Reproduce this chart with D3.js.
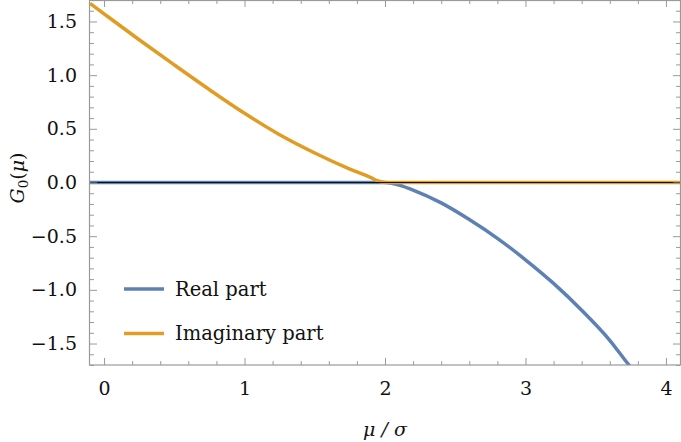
<!DOCTYPE html>
<html>
<head>
<meta charset="utf-8">
<script src="https://cdn.jsdelivr.net/npm/d3@7"></script>
<style>
  body { margin: 0; background: #fff; }
  svg { display: block; }
  text { font-family: "DejaVu Serif", serif; fill: #111; }
</style>
</head>
<body>
<svg width="681" height="442"></svg>
<script>
// values
var muRe = [-0.1, 0.5, 1.0, 1.5, 1.9, 2.0, 2.05, 2.1, 2.2, 2.4, 2.6, 2.8, 3.0, 3.2, 3.4, 3.6, 3.73, 3.8];
var re   = [0, 0, 0, 0, 0, 0, -0.008, -0.024, -0.07, -0.19, -0.345, -0.52, -0.72, -0.94, -1.19, -1.47, -1.69, -1.80];
var muIm = [-0.1, 0, 0.25, 0.5, 0.75, 1.0, 1.25, 1.5, 1.75, 1.9, 1.95, 2.0, 2.5, 3.0, 3.5, 4.1];
var im   = [1.668, 1.571, 1.33, 1.095, 0.865, 0.645, 0.445, 0.275, 0.125, 0.045, 0.014, 0, 0, 0, 0, 0];
var xTicks = [0, 1, 2, 3, 4];
var yTicks = [-1.5, -1.0, -0.5, 0.0, 0.5, 1.0, 1.5];
var seriesNames = ["Real part", "Imaginary part"];

var svg = d3.select("svg"),
    plotLeft = 90, plotRight = 680, plotTop = 0, plotBottom = 365;

var xScale = d3.scaleLinear().domain([-0.1, 4.1]).range([plotLeft, plotRight]),
    yScale = d3.scaleLinear().domain([-1.7, 1.7]).range([plotBottom, plotTop]);

var colors = ["#5e81b5", "#e19c24"];
var frameColor = "#9a9a9a";

svg.append("clipPath").attr("id", "clip")
    .append("rect")
    .attr("x", plotLeft).attr("y", plotTop)
    .attr("width", plotRight - plotLeft).attr("height", plotBottom - plotTop);

var series = [
    muRe.map(function (m, i) { return {mu: m, v: re[i]}; }),
    muIm.map(function (m, i) { return {mu: m, v: im[i]}; })
];

var line = d3.line()
    .x(function (d) { return xScale(d.mu); })
    .y(function (d) { return yScale(d.v); })
    .curve(d3.curveMonotoneX);

var plot = svg.append("g").attr("clip-path", "url(#clip)");

plot.selectAll(".line")
    .data(series)
    .enter().append("path")
    .attr("class", "line")
    .attr("d", line)
    .attr("fill", "none")
    .attr("stroke", function (d, i) { return colors[i]; })
    .attr("stroke-width", 3.5)
    .attr("stroke-linejoin", "round");

// zero axis line on top
plot.append("line")
    .attr("x1", plotLeft).attr("x2", plotRight)
    .attr("y1", yScale(0)).attr("y2", yScale(0))
    .attr("stroke", "#111")
    .attr("stroke-width", 1);

// frame with mirrored ticks
var xMinor = d3.range(0, 4.01, 0.2).filter(function (v) { return xTicks.indexOf(Math.round(v * 10) / 10) < 0; });
var yMinor = d3.range(-1.7, 1.71, 0.1).map(function (v) { return Math.round(v * 10) / 10; })
    .filter(function (v) { return Math.abs(v * 2 - Math.round(v * 2)) > 1e-6; });

var xAxisB = d3.axisBottom(xScale).tickValues(xTicks).tickSize(7).tickPadding(10).tickFormat(d3.format("d"));
var xAxisBm = d3.axisBottom(xScale).tickValues(xMinor).tickSize(4).tickFormat("");
var xAxisT = d3.axisTop(xScale).tickValues(xTicks).tickSize(7).tickFormat("");
var xAxisTm = d3.axisTop(xScale).tickValues(xMinor).tickSize(4).tickFormat("");
var yAxisL = d3.axisLeft(yScale).tickValues(yTicks).tickSize(7).tickPadding(6).tickFormat(function (d) {
    return (d < 0 ? "\u2212" : "") + Math.abs(d).toFixed(1);
});
var yAxisLm = d3.axisLeft(yScale).tickValues(yMinor).tickSize(4).tickFormat("");
var yAxisR = d3.axisRight(yScale).tickValues(yTicks).tickSize(7).tickFormat("");
var yAxisRm = d3.axisRight(yScale).tickValues(yMinor).tickSize(4).tickFormat("");

function inward(g) {
    g.select(".domain").remove();
    g.selectAll(".tick line").attr("stroke", frameColor);
    g.selectAll(".tick text").style("font-size", "19px").attr("fill", "#111");
}

svg.append("g").attr("transform", "translate(0," + plotBottom + ")").call(xAxisB).call(inward)
    .selectAll(".tick line").attr("y2", -7);
svg.append("g").attr("transform", "translate(0," + plotBottom + ")").call(xAxisBm).call(inward)
    .selectAll(".tick line").attr("y2", -4);
svg.append("g").attr("transform", "translate(0," + plotTop + ")").call(xAxisT).call(inward)
    .selectAll(".tick line").attr("y2", 7);
svg.append("g").attr("transform", "translate(0," + plotTop + ")").call(xAxisTm).call(inward)
    .selectAll(".tick line").attr("y2", 4);
svg.append("g").attr("transform", "translate(" + plotLeft + ",0)").call(yAxisL).call(inward)
    .selectAll(".tick line").attr("x2", 7);
svg.append("g").attr("transform", "translate(" + plotLeft + ",0)").call(yAxisLm).call(inward)
    .selectAll(".tick line").attr("x2", 4);
svg.append("g").attr("transform", "translate(" + plotRight + ",0)").call(yAxisR).call(inward)
    .selectAll(".tick line").attr("x2", -7);
svg.append("g").attr("transform", "translate(" + plotRight + ",0)").call(yAxisRm).call(inward)
    .selectAll(".tick line").attr("x2", -4);

svg.append("rect")
    .attr("x", plotLeft - 0.5).attr("y", plotTop + 0.5)
    .attr("width", plotRight - plotLeft + 1).attr("height", plotBottom - plotTop - 0.5)
    .attr("fill", "none")
    .attr("stroke", frameColor)
    .attr("stroke-width", 1.2);

// axis labels
svg.append("text")
    .attr("x", (plotLeft + plotRight) / 2)
    .attr("y", 436)
    .attr("text-anchor", "middle")
    .style("font-size", "19px")
    .style("font-style", "italic")
    .text("\u03bc / \u03c3");

var yl = svg.append("text")
    .attr("transform", "translate(24,178) rotate(-90)")
    .attr("text-anchor", "middle")
    .style("font-size", "19px")
    .style("font-style", "italic");
yl.append("tspan").text("G");
yl.append("tspan").attr("dy", 4).style("font-size", "13.5px").style("font-style", "normal").text("0");
yl.append("tspan").attr("dy", -4).style("font-style", "normal").text("(");
yl.append("tspan").text("\u03bc");
yl.append("tspan").style("font-style", "normal").text(")");

// legend
var legendRows = svg.append("g").attr("class", "legend")
    .selectAll(".legend-row")
    .data(seriesNames)
    .enter().append("g")
    .attr("class", "legend-row")
    .attr("transform", function (d, i) { return "translate(124," + (289 + i * 44.5) + ")"; });

legendRows.append("line")
    .attr("x1", 0).attr("x2", 40)
    .attr("stroke", function (d, i) { return colors[i]; })
    .attr("stroke-width", 3.5);

legendRows.append("text")
    .attr("x", 51)
    .attr("dy", "0.35em")
    .style("font-size", "19.5px")
    .text(function (d) { return d; });
</script>
</body>
</html>
